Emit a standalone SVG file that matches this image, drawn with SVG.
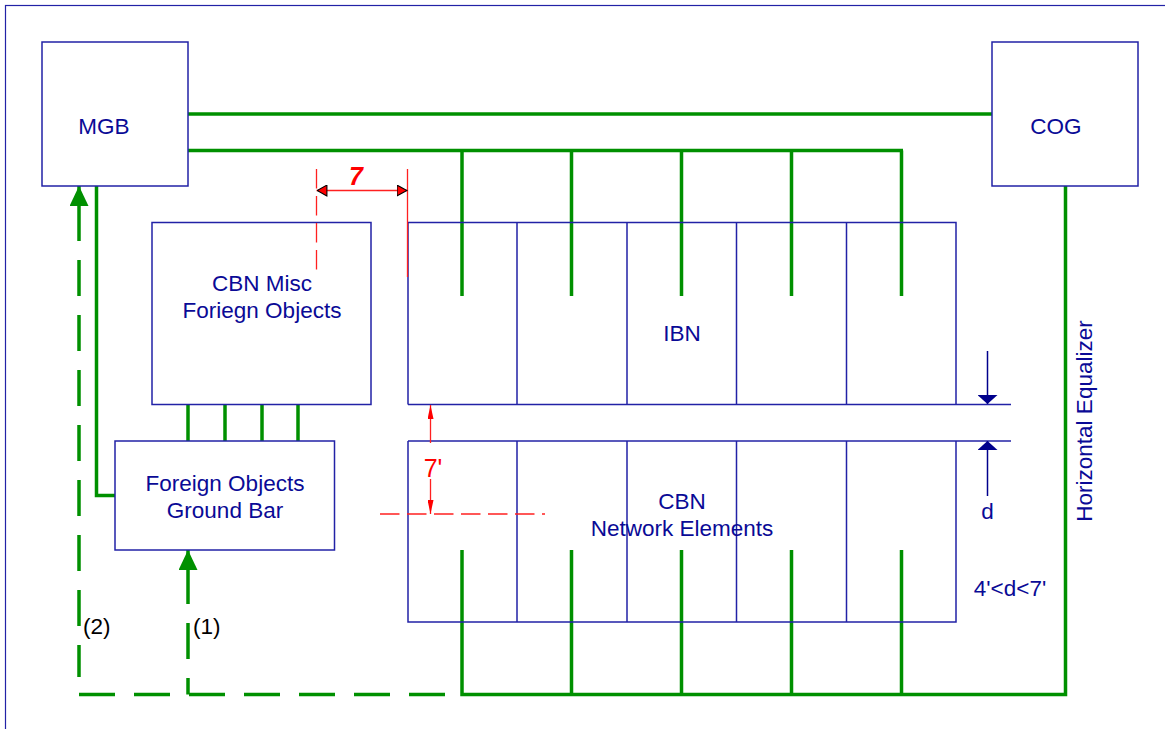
<svg xmlns="http://www.w3.org/2000/svg" width="1165" height="729" viewBox="0 0 1165 729">
<defs>
<style>
.box{fill:#fff;stroke:#2222a6;stroke-width:1.5}
.cell{fill:none;stroke:#2222a6;stroke-width:1.5}
.t{font-family:"Liberation Sans",Arial,sans-serif;font-size:22.5px;fill:#0a0a96;text-anchor:middle}
.g{fill:none;stroke:#009000;stroke-width:3.5}
.gd{fill:none;stroke:#009000;stroke-width:3.5;stroke-dasharray:36 19}
.r{fill:none;stroke:#ff2020;stroke-width:1.3}
.rd{fill:none;stroke:#ff2020;stroke-width:1.3;stroke-dasharray:19.5 7.5}
.blk{font-family:"Liberation Sans",Arial,sans-serif;font-size:22.5px;fill:#000}
</style>
<marker id="ga" viewBox="0 0 20 19" refX="20" refY="9.5" markerWidth="20" markerHeight="19" markerUnits="userSpaceOnUse" orient="auto">
<path d="M0,0 L20,9.5 L0,19 Z" fill="#009000"/>
</marker>
<marker id="ra" viewBox="0 0 11 12" refX="11" refY="6" markerWidth="11" markerHeight="12" markerUnits="userSpaceOnUse" orient="auto">
<path d="M0.6,0.6 L10.4,6 L0.6,11.4 Z" fill="#ff0000" stroke="#000" stroke-width="1.1"/>
</marker>
<marker id="rn" viewBox="0 0 14 6" refX="14" refY="3" markerWidth="14" markerHeight="6" markerUnits="userSpaceOnUse" orient="auto">
<path d="M0,0 L14,3 L0,6 Z" fill="#ff0000"/>
</marker>
<marker id="na" viewBox="0 0 9 20" refX="9" refY="10" markerWidth="9" markerHeight="20" markerUnits="userSpaceOnUse" orient="auto">
<path d="M0,0 L9,10 L0,20 Z" fill="#00008c"/>
</marker>
</defs>
<rect x="0" y="0" width="1165" height="729" fill="#fff"/>
<rect id="frame" x="5.5" y="5.5" width="1180" height="740" fill="none" stroke="#2222a6" stroke-width="1.2"/>

<g id="connectors">
<path class="g" d="M188,114 H992"/>
<path class="g" d="M188,150.5 H903 M462,150.5 V296 M571.5,150.5 V296 M681.5,150.5 V296 M791.5,150.5 V296 M901.5,150.5 V296"/>
<path class="g" d="M188,404 V441 M225,404 V441 M262,404 V441 M298,404 V441"/>
<path class="g" d="M115,495.5 H96.5 V186"/>
<path class="g" d="M462,550 V694.5 H1065.5 V186 M571.5,550 V694.5 M681.5,550 V694.5 M791.5,550 V694.5 M901.5,550 V694.5"/>
<path class="gd" d="M79,205 V677"/>
<path class="g" d="M79,206 V186" marker-end="url(#ga)"/>
<path class="gd" d="M79,694.5 H462"/>
<path class="gd" d="M188,568 V694.5"/>
<path class="g" d="M188,569 V550" marker-end="url(#ga)"/>
</g>

<g id="MGB"><rect class="box" x="42" y="42" width="146" height="144"/><text class="t" x="104" y="134">MGB</text></g>
<g id="COG"><rect class="box" x="992" y="42" width="146" height="144"/><text class="t" x="1056" y="134">COG</text></g>
<g id="CBN-Misc"><rect class="box" x="152" y="222.5" width="219" height="182"/><text class="t" x="262" y="291">CBN Misc</text><text class="t" x="262" y="318">Foriegn Objects</text></g>
<g id="FOGB"><rect class="box" x="115" y="441" width="219.5" height="109"/><text class="t" x="225" y="491">Foreign Objects</text><text class="t" x="225" y="518">Ground Bar</text></g>
<g id="IBN">
<path class="cell" d="M408,404.5 V222.5 H956 V404.5 M517,222.5 V404.5 M627,222.5 V404.5 M736.5,222.5 V404.5 M846.5,222.5 V404.5"/>
<path class="cell" d="M408,404.5 H1011"/>
<text class="t" x="682" y="341">IBN</text>
</g>
<g id="CBN">
<path class="cell" d="M408,441 V622 H956 V441 M517,441 V622 M627,441 V622 M736.5,441 V622 M846.5,441 V622"/>
<path class="cell" d="M408,441 H1011"/>
<text class="t" x="682" y="509">CBN</text>
<text class="t" x="682" y="536">Network Elements</text>
</g>

<g id="dimensions">
<path class="rd" d="M316.5,169 V272"/>
<path class="r" d="M407.5,169 V277"/>
<path class="r" d="M362,190.5 H316.5" marker-end="url(#ra)"/>
<path class="r" d="M362,190.5 H407.5" marker-end="url(#ra)"/>
<text x="356" y="184.5" font-family="Liberation Sans,Arial,sans-serif" font-size="25" font-style="italic" font-weight="bold" fill="#ff0000" text-anchor="middle">7</text>
<path class="r" d="M430.5,443 V405" marker-end="url(#rn)"/>
<path class="r" d="M430.5,479 V514" marker-end="url(#rn)"/>
<text x="433" y="477" font-family="Liberation Sans,Arial,sans-serif" font-size="25" fill="#ff0000" text-anchor="middle">7'</text>
<path class="rd" d="M380,514 H545"/>
<path d="M987.5,351 V404" stroke="#00008c" stroke-width="1.5" fill="none" marker-end="url(#na)"/>
<path d="M987.5,496 V441" stroke="#00008c" stroke-width="1.5" fill="none" marker-end="url(#na)"/>
<text class="t" x="987.5" y="519">d</text>
<text class="t" x="1010" y="596">4'&lt;d&lt;7'</text>
<text class="t" transform="translate(1092,421) rotate(-90)">Horizontal Equalizer</text>
<text class="blk" x="83" y="634">(2)</text>
<text class="blk" x="193" y="634">(1)</text>
</g>
</svg>
